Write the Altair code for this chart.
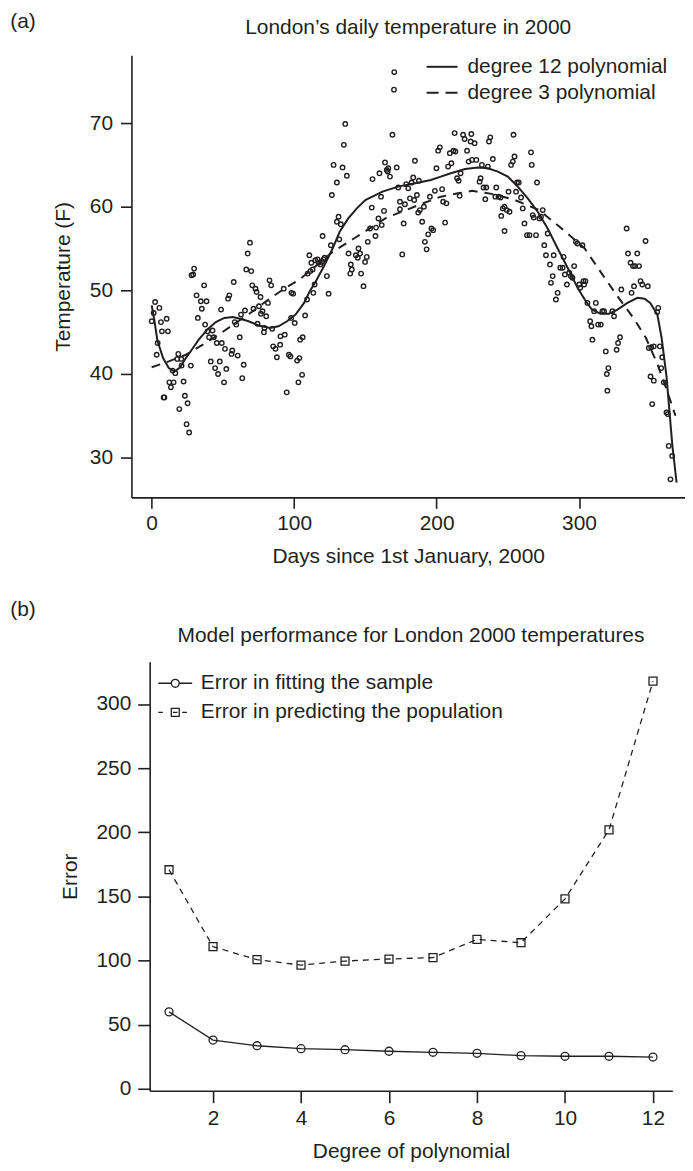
import altair as alt
import pandas as pd

# ---------------- data ----------------
days = [2.4, 1.4, 5.4, 0.0, 6.5, 10.5, 7.2, 11.4, 4.2, 3.5, 8.9, 8.4, 12.4, 15.4, 13.5, 14.7, 16.6, 18.7,
        18.0, 20.8, 21.0, 22.4, 19.4, 23.3, 25.2, 24.5, 26.3, 27.5, 29.1, 28.0, 29.8, 31.5, 34.5, 38.5,
        35.2, 32.4, 36.8, 37.5, 39.2, 42.7, 40.3, 43.6, 45.7, 49.2, 51.5, 41.5, 44.5, 47.8, 46.6, 50.8,
        52.4, 48.7, 53.6, 54.5, 57.6, 56.6, 58.3, 56.1, 60.4, 61.8, 64.6, 63.6, 59.4, 62.7, 65.5, 67.4,
        69.0, 66.4, 69.9, 70.6, 72.9, 73.6, 76.4, 71.5, 75.3, 76.7, 77.8, 80.4, 74.3, 79.2, 78.8, 81.6,
        82.7, 83.9, 84.6, 85.3, 86.9, 90.2, 87.9, 90.4, 93.4, 92.7, 98.1, 99.3, 94.8, 96.3, 97.9, 100.4,
        97.4, 102.1, 103.7, 103.0, 105.6, 104.2, 106.0, 107.7, 109.1, 109.5, 111.4, 110.7, 112.1, 113.0,
        114.9, 114.4, 113.5, 116.5,
        117.2, 118.4, 119.5, 120.7, 121.4, 123.0, 124.2, 120.0, 125.8, 127.7, 130.0, 126.5, 131.2, 130.0,
        132.8, 134.0, 134.9, 135.9, 137.0, 131.7, 138.2, 139.8, 140.5, 139.4, 143.3, 144.7, 145.2, 146.3,
        147.0, 148.7, 149.8, 151.0, 151.7, 153.3, 154.5, 155.0, 157.1, 157.5, 159.2, 161.0, 159.9, 161.5,
        163.1, 163.8, 165.0, 166.1, 167.3, 165.7, 169.0, 170.1, 170.3, 172.0, 173.1, 174.3, 174.3, 176.9,
        175.9, 177.8, 178.7, 180.1, 181.3, 182.5, 183.6, 184.3, 184.8, 186.2, 187.6, 187.1, 188.3, 189.9,
        191.1, 191.8, 193.0, 194.1, 195.3, 196.4, 197.6, 198.8, 199.9, 201.1, 202.3, 203.9, 204.6, 206.0,
        206.9, 208.1, 209.3, 210.4, 211.8, 213.2, 212.7, 214.4, 215.5, 216.2, 216.9, 218.6, 219.7, 221.4,
        222.5, 223.9, 224.4, 224.9, 226.7, 227.9, 230.2, 230.9, 231.8, 233.0, 234.2, 234.9, 236.0, 236.8,
        237.7, 239.5, 241.2, 241.9,
        243.5, 244.9, 246.5, 245.4, 247.7, 249.3, 251.2, 250.5, 247.7, 252.3, 253.5, 254.7, 254.0, 256.5,
        255.8, 257.7, 259.3, 260.5, 261.7, 263.5, 265.2, 266.3, 266.8, 267.5, 268.2, 269.8, 270.5, 272.2,
        273.3, 274.5, 275.6, 276.8, 278.0, 279.6, 281.5, 282.2, 280.3, 283.8, 285.0, 286.8, 288.5, 289.2,
        290.1, 291.5, 293.1, 294.3, 295.4, 296.6, 297.8, 298.9, 300.1, 300.8, 302.4, 303.6, 303.1, 304.5,
        305.9, 307.8, 308.7, 309.4, 310.6, 311.8, 313.4, 315.3, 316.4, 317.6, 318.8, 319.9, 319.5, 320.6,
        323.4, 324.6, 326.4, 327.4, 328.8, 329.7, 333.4, 334.4, 336.2, 337.9, 339.3, 340.9, 342.1, 336.9,
        338.6, 343.2, 344.4, 346.7, 348.3, 349.0, 350.7, 352.5, 355.6, 354.9, 356.7, 358.4, 357.7, 350.2,
        352.5, 351.4, 359.5, 361.4, 362.3, 363.0, 365.4, 364.2]
temps = [48.6, 47.3, 47.9, 46.3, 46.2, 46.6, 45.1, 45.1, 43.7, 42.3, 37.2, 37.2, 39.0, 39.0, 38.4, 40.4, 40.1, 42.4,
         41.8, 41.8, 41.0, 39.1, 35.8, 37.4, 36.5, 34.0, 33.0, 41.0, 51.9, 51.8, 52.6, 49.4, 48.7, 48.7,
         47.8, 46.7, 50.6, 45.9, 45.1, 45.2, 44.4, 44.4, 43.7, 43.7, 43.0, 41.5, 40.7, 41.5, 40.0, 39.0,
         40.6, 47.7, 49.0, 49.4, 51.0, 42.8, 46.2, 42.4, 42.2, 44.4, 41.1, 39.5, 45.9, 47.1, 47.6, 54.4,
         55.7, 52.5, 52.3, 50.6, 50.2, 49.8, 49.2, 47.8, 48.1, 47.2, 47.5, 46.9, 46.0, 45.5, 45.0, 48.5,
         51.2, 50.6, 45.4, 43.3, 43.0, 43.5, 42.0, 44.5, 44.7, 50.2, 49.7, 49.6, 37.8, 42.3, 46.7, 46.1,
         42.1, 41.6, 41.9, 39.0, 39.9, 44.1, 44.4, 47.0, 48.9, 52.0, 52.3, 54.2, 53.3, 52.5,
         53.6, 50.7, 49.7, 53.7,
         53.3, 53.1, 53.4, 53.7, 53.9, 51.7, 49.6, 56.5, 55.4, 65.0, 62.9, 61.4, 58.8, 58.2,
         57.9, 64.7, 67.4, 69.9, 63.7, 56.1, 54.4, 53.1, 52.5, 52.0, 54.2, 53.9, 55.0, 54.4,
         52.0, 50.5, 53.4, 54.0, 55.8, 57.4, 59.9, 63.3, 56.5, 57.5, 58.6, 61.2, 64.0, 57.8,
         59.5, 65.3, 64.4, 64.6, 63.6, 64.2, 68.6, 74.0, 76.1, 64.7, 62.3, 59.7, 60.6, 58.0,
         54.3, 60.3, 62.7, 62.2, 61.0, 62.9, 63.5, 60.8, 65.5, 61.4, 63.1, 59.3, 59.6, 58.2,
         60.0, 55.8, 54.9, 56.7, 61.2, 57.4, 57.2, 61.9, 64.6, 66.7, 67.1, 62.1, 60.6, 58.1,
         60.4, 64.8, 66.4, 65.2, 66.7, 66.6, 68.8, 63.4, 63.1, 61.3, 64.0, 68.6, 68.1, 66.7,
         65.4, 67.8, 68.7, 65.6, 67.6, 65.6, 63.0, 63.4, 65.0, 62.3, 60.9, 62.3, 64.8, 67.8,
         68.3, 65.7, 61.2, 62.3,
         61.2, 61.1, 59.8, 58.9, 60.0, 59.6, 59.4, 61.8, 57.1, 65.0, 65.4, 66.0, 68.6, 62.9,
         61.8, 62.9, 61.1, 59.8, 58.0, 56.6, 56.6, 66.5, 65.0, 59.0, 58.7, 56.6, 62.9, 58.6,
         58.8, 59.6, 55.4, 54.2, 56.8, 53.1, 51.7, 54.2, 50.9, 48.9, 49.7, 52.7, 52.7, 54.0,
         51.9, 50.7, 52.1, 51.7, 51.5, 52.9, 55.8, 55.6, 50.7, 50.3, 55.4, 50.7, 51.1, 51.1,
         48.5, 46.3, 45.7, 44.1, 47.5, 48.5, 45.9, 45.9, 47.5, 47.5, 42.7, 38.0, 40.0, 40.7,
         47.5, 46.9, 42.9, 43.7, 44.4, 50.1, 57.4, 54.4, 53.3, 52.9, 52.9, 54.4, 52.9, 49.7,
         50.5, 51.1, 50.7, 55.9, 50.5, 43.1, 43.2, 43.3, 47.9, 47.4, 43.3, 42.0, 40.7, 39.7,
         39.2, 36.4, 39.0, 35.4, 35.2, 31.4, 30.2, 27.4]

deg12_day = [0, 2, 4, 8, 12, 16, 20, 24, 29, 33, 39, 45, 51, 57, 62, 68, 75, 83, 89, 95, 101, 107,
             111, 115, 121, 127, 132, 138, 144, 150, 162, 173, 185, 196, 203, 210, 220, 229, 236,
             243, 250, 257, 264, 271, 278, 285, 292, 299, 304, 309, 315, 321, 327, 334, 341, 346,
             350, 355, 358, 361.5, 363.5, 365.5, 368.5]
deg12_temp = [48.2, 46.3, 44.0, 41.9, 40.7, 40.3, 40.8, 41.9, 43.1, 44.1, 45.3, 46.2, 46.7, 46.8, 46.6,
              46.3, 45.8, 45.5, 45.7, 46.3, 47.1, 48.5, 49.9, 51.0, 52.9, 55.0, 57.0, 58.6, 59.8, 60.8,
              61.8, 62.4, 62.8, 63.2, 63.6, 64.0, 64.5, 64.7, 64.6, 64.2, 63.6, 62.4, 61.0, 59.4, 57.4,
              55.0, 52.7, 50.3, 48.9, 47.7, 47.2, 47.2, 47.7, 48.5, 49.1, 49.0, 48.5, 47.1, 44.3, 39.6,
              35.5, 31.5, 27.0]
deg3_day = [0, 12, 24, 36, 47, 59, 71, 82, 94, 103, 111, 127, 142, 165, 192, 203, 215, 225, 240,
            255, 272, 292, 304, 316, 327, 339, 347, 355, 362, 367.7]
deg3_temp = [40.8, 41.5, 42.3, 43.5, 44.7, 46.1, 47.5, 48.9, 50.3, 51.2, 52.3, 54.6, 56.2, 58.7, 60.5,
             61.2, 61.6, 61.9, 61.5, 60.8, 59.6, 56.8, 55.0, 52.0, 49.3, 46.5, 44.3, 41.2, 37.9, 35.0]

degrees = list(range(1, 13))
err_sample = [60.0, 38.0, 33.6, 31.3, 30.5, 29.3, 28.5, 27.7, 25.9, 25.4, 25.4, 24.8]
err_population = [170.8, 110.8, 100.7, 96.5, 99.6, 101.2, 102.3, 116.5, 113.9, 148.1, 201.9, 317.8]

top_labels = ["degree 12 polynomial", "degree 3 polynomial"]
bottom_labels = ["Error in fitting the sample", "Error in predicting the population"]

# ---------------- styling ----------------
FONT = "Liberation Sans"
INK = "#231f20"
FS = 21

TOP_W, TOP_H = 556, 444
SHIFT = 18.3                      # lower panel's y axis sits this far right of the upper one
BOT_W, BOT_H = 543.3, 431

# legend symbols: line samples drawn as custom symbol paths
P_SOLID = "M-1.5,0H1.5"
P_DASH = "M-1.5,0H-0.34M0.34,0H1.5"
P_CIRC = ("M-1.5,0H-0.353M0.353,0H1.5M0.353,0A0.353,0.353,0,1,1,-0.353,0"
          "A0.353,0.353,0,1,1,0.353,0")
P_SQ = "M-1.5,0H-1.1M0.62,0H1.03M-0.353,-0.353H0.353V0.353H-0.353ZM-0.2,0H0.2"

# ---------------- top panel ----------------
scatter_df = pd.DataFrame({"day": days, "temp": temps})
d12_df = pd.DataFrame({"day": deg12_day, "temp": deg12_temp})
d3_df = pd.DataFrame({"day": deg3_day, "temp": deg3_temp})

xs_top = alt.Scale(domain=[-14.2, 374.4], nice=False, zero=False)
ys_top = alt.Scale(domain=[25.24, 78.1], nice=False, zero=False)
x_top = alt.X("day:Q", scale=xs_top,
              axis=alt.Axis(values=[0, 100, 200, 300], title="Days since 1st January, 2000",
                            tickSize=11, labelPadding=4, titlePadding=12))
y_top = alt.Y("temp:Q", scale=ys_top,
              axis=alt.Axis(values=[30, 40, 50, 60, 70], title="Temperature (F)",
                            tickSize=11, labelPadding=8, titlePadding=16))

pts = alt.Chart(scatter_df).mark_point(shape="circle", filled=False, size=20, strokeWidth=1.4,
                                        color=INK, opacity=1).encode(x=x_top, y=y_top)
l12 = alt.Chart(d12_df).mark_line(color=INK, strokeWidth=2).encode(x=x_top, y=y_top)
l3 = alt.Chart(d3_df).mark_line(color=INK, strokeWidth=2, strokeDash=[9, 7]).encode(x=x_top, y=y_top)

top_leg = alt.Chart(pd.DataFrame({"model": top_labels})).mark_point(
    filled=False, opacity=0, color=INK).encode(
    shape=alt.Shape("model:N",
                    scale=alt.Scale(domain=top_labels, range=[P_SOLID, P_DASH]),
                    legend=alt.Legend(title=None, orient="none", legendX=300.5, legendY=0,
                                      symbolSize=427, symbolStrokeWidth=2, symbolStrokeColor=INK,
                                      labelOffset=14, rowPadding=4, padding=0,
                                      labelFont=FONT, labelFontSize=FS, labelColor=INK,
                                      labelLimit=400)))

top_txt = alt.Chart(pd.DataFrame({"t": ["(a)"]})).mark_text(
    align="left", baseline="middle", font=FONT, fontSize=FS, color=INK).encode(
    text="t:N", x=alt.value(-121.7), y=alt.value(-33))
top_title = alt.Chart(pd.DataFrame({"t": ["London\u2019s daily temperature in 2000"]})).mark_text(
    align="center", baseline="middle", font=FONT, fontSize=FS, color=INK).encode(
    text="t:N", x=alt.value(TOP_W / 2), y=alt.value(-27))

top = alt.layer(pts, l12, l3, top_leg, top_txt, top_title).properties(width=TOP_W, height=TOP_H)

# ---------------- bottom panel ----------------
perf_df = pd.DataFrame({"degree": degrees, "sample": err_sample, "population": err_population})
xs_b = alt.Scale(domain=[0.56, 12.44], range=[SHIFT, BOT_W], nice=False, zero=False)
ys_b = alt.Scale(domain=[-1.5, 333], nice=False, zero=False)
x_b = alt.X("degree:Q", scale=xs_b,
            axis=alt.Axis(values=[2, 4, 6, 8, 10, 12], title="Degree of polynomial",
                          tickSize=12, labelPadding=5, titlePadding=12))
y_axis_b = alt.Axis(values=[0, 50, 100, 150, 200, 250, 300], title="Error", offset=-SHIFT,
                    tickSize=12, labelPadding=7, titlePadding=15)

base_b = alt.Chart(perf_df)
s_line = base_b.mark_line(color=INK, strokeWidth=1.3).encode(
    x=x_b, y=alt.Y("sample:Q", scale=ys_b, axis=y_axis_b))
s_pts = base_b.mark_point(shape="circle", filled=False, size=64, strokeWidth=1.3, color=INK,
                          opacity=1).encode(x=x_b, y=alt.Y("sample:Q", scale=ys_b, axis=y_axis_b))
p_line = base_b.mark_line(color=INK, strokeWidth=1.3, strokeDash=[6, 5]).encode(
    x=x_b, y=alt.Y("population:Q", scale=ys_b, axis=y_axis_b))
p_pts = base_b.mark_point(shape="square", filled=False, size=64, strokeWidth=1.3, color=INK,
                          opacity=1).encode(x=x_b, y=alt.Y("population:Q", scale=ys_b, axis=y_axis_b))

bot_leg = alt.Chart(pd.DataFrame({"err": bottom_labels})).mark_point(
    filled=False, opacity=0, color=INK).encode(
    shape=alt.Shape("err:N",
                    scale=alt.Scale(domain=bottom_labels, range=[P_CIRC, P_SQ]),
                    legend=alt.Legend(title=None, orient="none", legendX=SHIFT + 13.7, legendY=9.7,
                                      symbolSize=514, symbolStrokeWidth=1.3, symbolStrokeColor=INK,
                                      labelOffset=13.7, rowPadding=7.3, padding=0,
                                      labelFont=FONT, labelFontSize=FS, labelColor=INK,
                                      labelLimit=500)))

bot_txt = alt.Chart(pd.DataFrame({"t": ["(b)"]})).mark_text(
    align="left", baseline="middle", font=FONT, fontSize=FS, color=INK).encode(
    text="t:N", x=alt.value(-121.7), y=alt.value(-52))
bot_title = alt.Chart(pd.DataFrame({"t": ["Model performance for London 2000 temperatures"]})).mark_text(
    align="center", baseline="middle", font=FONT, fontSize=FS, color=INK).encode(
    text="t:N", x=alt.value((SHIFT + BOT_W) / 2), y=alt.value(-26))

bottom = alt.layer(p_line, s_line, p_pts, s_pts, bot_leg, bot_txt, bot_title).properties(
    width=BOT_W, height=BOT_H)

chart = alt.concat(top, bottom, columns=1, spacing=33, align="none").resolve_scale(
    shape="independent").resolve_legend(shape="independent").properties(
    padding={"left": 2, "top": 1, "right": 0, "bottom": 0}
).configure_view(stroke=None).configure_axis(
    grid=False, domainColor=INK, domainWidth=1.6, tickColor=INK, tickWidth=1.6,
    labelFont=FONT, labelFontSize=FS, labelColor=INK,
    titleFont=FONT, titleFontSize=FS, titleColor=INK, titleFontWeight="normal"
)

chart.save("out.html", embed_options={"renderer": "svg", "actions": False})
